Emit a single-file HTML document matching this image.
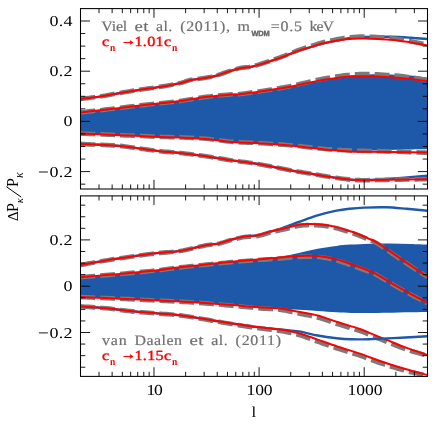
<!DOCTYPE html>
<html><head><meta charset="utf-8"><title>plot</title>
<style>
html,body{margin:0;padding:0;background:#fff;}
body{width:436px;height:425px;position:relative;overflow:hidden;font-family:"Liberation Serif",serif;}
.t{position:absolute;white-space:nowrap;font-size:15px;line-height:15px;color:#000;}
.yl{text-align:right;width:70px;left:3.6px;letter-spacing:1.3px;}
.mn{display:inline-block;width:9px;margin-right:2.6px;letter-spacing:0;text-align:center;transform:scaleX(1.0);}
.xl{text-align:center;width:60px;font-size:15.5px;letter-spacing:1.25px;}
sub.w{font-size:7.5px;font-weight:bold;letter-spacing:0;vertical-align:-2.8px}
.g{color:#6e6e6e;}
.r{color:#ff0000;font-weight:normal;-webkit-text-stroke:0.5px #ff0000;}
.r sub{font-size:9.5px;font-weight:bold;-webkit-text-stroke:0;vertical-align:-3.5px}
sub{font-size:8px;line-height:0;vertical-align:-3px;font-family:"Liberation Sans",sans-serif;letter-spacing:0.3px}
</style></head><body>
<svg width="436" height="425" viewBox="0 0 436 425" style="position:absolute;left:0;top:0">
<defs><clipPath id="c1"><rect x="80.5" y="8.6" width="347" height="180.4"/></clipPath><clipPath id="c2"><rect x="80.5" y="195.9" width="347" height="180.5"/></clipPath></defs>
<g clip-path="url(#c1)">
<path d="M80.50 112.40 C83.75 112.05 93.42 111.05 100.00 110.30 C106.58 109.55 113.33 108.70 120.00 107.90 C126.67 107.10 133.33 106.27 140.00 105.50 C146.67 104.73 153.33 104.03 160.00 103.30 C166.67 102.57 172.33 102.15 180.00 101.10 C187.67 100.05 197.33 98.12 206.00 97.00 C214.67 95.88 226.33 94.87 232.00 94.40 C237.67 93.93 234.75 94.77 240.00 94.20 C245.25 93.63 255.65 92.15 263.50 91.00 C271.35 89.85 279.25 88.73 287.10 87.30 C294.95 85.87 304.72 83.62 310.60 82.40 C316.48 81.18 317.50 80.83 322.40 80.00 C327.30 79.17 335.40 78.13 340.00 77.40 C344.60 76.67 346.00 76.07 350.00 75.60 C354.00 75.13 357.25 74.80 364.00 74.60 C370.75 74.40 382.73 74.23 390.50 74.40 C398.27 74.57 404.43 75.05 410.60 75.60 C416.77 76.15 424.68 77.35 427.50 77.70 L427.50 149.30 C424.58 149.33 416.17 149.38 410.00 149.50 C403.83 149.62 398.17 149.78 390.50 150.00 C382.83 150.22 370.75 150.55 364.00 150.80 C357.25 151.05 355.67 151.62 350.00 151.50 C344.33 151.38 336.67 150.72 330.00 150.10 C323.33 149.48 316.67 148.57 310.00 147.80 C303.33 147.03 298.67 146.25 290.00 145.50 C281.33 144.75 267.67 143.88 258.00 143.30 C248.33 142.72 240.67 142.73 232.00 142.00 C223.33 141.27 214.67 139.65 206.00 138.90 C197.33 138.15 187.67 137.82 180.00 137.50 C172.33 137.18 166.67 137.25 160.00 137.00 C153.33 136.75 146.67 136.30 140.00 136.00 C133.33 135.70 126.67 135.48 120.00 135.20 C113.33 134.92 106.58 134.57 100.00 134.30 C93.42 134.03 83.75 133.72 80.50 133.60 Z" fill="#1e58a8"/>
<path d="M80.50 99.00 C83.75 98.60 93.42 97.60 100.00 96.60 C106.58 95.60 113.33 94.13 120.00 93.00 C126.67 91.87 133.33 90.82 140.00 89.80 C146.67 88.78 153.33 88.00 160.00 86.90 C166.67 85.80 175.00 84.32 180.00 83.20 C185.00 82.08 186.23 81.00 190.00 80.20 C193.77 79.40 198.38 79.10 202.60 78.40 C206.82 77.70 211.08 77.10 215.30 76.00 C219.52 74.90 223.70 73.10 227.90 71.80 C232.10 70.50 236.72 69.00 240.50 68.20 C244.28 67.40 247.23 67.67 250.60 67.00 C253.97 66.33 256.92 65.33 260.70 64.20 C264.48 63.07 269.08 61.62 273.30 60.20 C277.52 58.78 281.72 57.30 286.00 55.70 C290.28 54.10 294.90 52.03 299.00 50.60 C303.10 49.17 306.70 48.28 310.60 47.10 C314.50 45.92 317.50 44.68 322.40 43.50 C327.30 42.32 335.40 40.93 340.00 40.00 C344.60 39.07 346.00 38.42 350.00 37.90 C354.00 37.38 357.25 37.08 364.00 36.90 C370.75 36.72 382.73 36.67 390.50 36.80 C398.27 36.93 404.43 37.33 410.60 37.70 C416.77 38.07 424.68 38.78 427.50 39.00" fill="none" stroke="#1e58a8" stroke-width="2.4"/>
<path d="M80.50 98.90 L82.00 98.72 L83.99 98.50 L86.36 98.23 L89.00 97.92 L91.79 97.59 L94.63 97.24 L97.41 96.87 L100.00 96.50 L102.48 96.10 L104.96 95.67 L107.46 95.22 L109.97 94.75 L112.48 94.27 L114.99 93.80 L117.50 93.34 L120.00 92.90 L122.50 92.48 L125.00 92.06 L127.50 91.66 L130.00 91.26 L132.50 90.86 L135.00 90.47 L137.50 90.08 L140.00 89.70 L142.50 89.33 L145.00 88.97 L147.50 88.63 L150.00 88.28 L152.50 87.93 L155.00 87.57 L157.50 87.20 L160.00 86.80 L162.57 86.37 L165.23 85.91 L167.94 85.44 L170.62 84.96 L173.23 84.47 L175.70 83.99 L177.98 83.53 L180.00 83.10 L181.71 82.68 L183.14 82.27 L184.37 81.87 L185.46 81.48 L186.50 81.11 L187.55 80.75 L188.69 80.41 L190.00 80.10 L191.45 79.82 L192.96 79.58 L194.53 79.36 L196.13 79.16 L197.75 78.97 L199.38 78.76 L201.00 78.54 L202.60 78.30 L204.18 78.03 L205.77 77.77 L207.36 77.51 L208.95 77.24 L210.54 76.94 L212.13 76.62 L213.72 76.27 L215.30 75.87 L216.88 75.43 L218.46 74.93 L220.03 74.40 L221.61 73.84 L223.18 73.27 L224.75 72.71 L226.33 72.16 L227.90 71.65 L229.49 71.16 L231.11 70.65 L232.73 70.15 L234.36 69.66 L235.96 69.19 L237.53 68.75 L239.04 68.37 L240.50 68.03 L241.88 67.78 L243.20 67.60 L244.47 67.47 L245.71 67.37 L246.92 67.28 L248.13 67.18 L249.35 67.03 L250.60 66.82 L251.85 66.55 L253.07 66.25 L254.28 65.93 L255.49 65.58 L256.73 65.21 L258.00 64.83 L259.32 64.42 L260.70 63.99 L262.15 63.53 L263.67 63.05 L265.24 62.54 L266.84 62.02 L268.46 61.48 L270.08 60.94 L271.70 60.39 L273.30 59.83 L274.88 59.28 L276.46 58.72 L278.04 58.15 L279.62 57.57 L281.21 56.99 L282.80 56.39 L284.40 55.79 L286.00 55.18 L287.62 54.54 L289.26 53.86 L290.91 53.17 L292.57 52.48 L294.21 51.79 L295.84 51.13 L297.44 50.50 L299.00 49.91 L300.52 49.38 L301.99 48.89 L303.44 48.43 L304.88 47.99 L306.30 47.57 L307.72 47.14 L309.15 46.71 L310.60 46.26 L312.03 45.79 L313.40 45.33 L314.76 44.86 L316.12 44.38 L317.54 43.91 L319.04 43.44 L320.65 42.97 L322.40 42.50 L324.37 42.02 L326.57 41.51 L328.91 40.99 L331.31 40.46 L333.70 39.95 L336.00 39.47 L338.12 39.04 L340.00 38.68 L341.59 38.39 L342.94 38.15 L344.13 37.97 L345.23 37.82 L346.29 37.70 L347.40 37.59 L348.61 37.48 L350.00 37.36 L351.47 37.22 L352.93 37.08 L354.41 36.95 L355.97 36.82 L357.66 36.71 L359.53 36.63 L361.62 36.57 L364.00 36.54 L366.76 36.58 L369.90 36.72 L373.30 36.90 L376.87 37.11 L380.48 37.34 L384.03 37.60 L387.41 37.87 L390.50 38.16 L393.34 38.47 L396.05 38.81 L398.65 39.18 L401.15 39.58 L403.58 40.02 L405.95 40.45 L408.28 40.89 L410.60 41.31 L412.98 41.76 L415.45 42.24 L417.91 42.73 L420.31 43.22 L422.54 43.68 L424.54 44.10 L426.22 44.45 L427.50 44.70" fill="none" stroke="#7a7a7a" stroke-width="4.6" stroke-dasharray="14.8 5" stroke-dashoffset="0"/>
<path d="M80.50 99.00 C83.75 98.60 93.42 97.60 100.00 96.60 C106.58 95.60 113.33 94.13 120.00 93.00 C126.67 91.87 133.33 90.82 140.00 89.80 C146.67 88.78 153.33 88.00 160.00 86.90 C166.67 85.80 175.00 84.32 180.00 83.20 C185.00 82.08 186.23 81.00 190.00 80.20 C193.77 79.40 198.38 79.10 202.60 78.40 C206.82 77.70 211.08 77.10 215.30 76.00 C219.52 74.90 223.70 73.10 227.90 71.80 C232.10 70.50 236.72 69.00 240.50 68.20 C244.28 67.40 247.23 67.67 250.60 67.00 C253.97 66.33 256.92 65.33 260.70 64.20 C264.48 63.07 269.08 61.62 273.30 60.20 C277.52 58.78 281.72 57.30 286.00 55.70 C290.28 54.10 294.90 52.03 299.00 50.60 C303.10 49.17 306.70 48.28 310.60 47.10 C314.50 45.92 317.50 44.68 322.40 43.50 C327.30 42.32 335.40 40.77 340.00 40.00 C344.60 39.23 346.00 39.17 350.00 38.90 C354.00 38.63 357.25 38.27 364.00 38.40 C370.75 38.53 382.73 39.03 390.50 39.70 C398.27 40.37 404.43 41.47 410.60 42.40 C416.77 43.33 424.68 44.82 427.50 45.30" fill="none" stroke="#ff0000" stroke-width="2.0"/>
<path d="M80.50 112.30 L82.00 112.14 L83.99 111.93 L86.36 111.68 L89.00 111.40 L91.79 111.10 L94.63 110.80 L97.41 110.49 L100.00 110.20 L102.48 109.91 L104.96 109.62 L107.46 109.32 L109.97 109.02 L112.48 108.71 L114.99 108.41 L117.50 108.10 L120.00 107.80 L122.50 107.50 L125.00 107.20 L127.50 106.89 L130.00 106.59 L132.50 106.29 L135.00 105.99 L137.50 105.69 L140.00 105.40 L142.50 105.12 L145.00 104.84 L147.50 104.56 L150.00 104.29 L152.50 104.02 L155.00 103.75 L157.50 103.47 L160.00 103.20 L162.46 102.94 L164.86 102.69 L167.24 102.46 L169.62 102.22 L172.06 101.96 L174.58 101.68 L177.21 101.37 L180.00 101.00 L182.96 100.57 L186.08 100.07 L189.31 99.54 L192.62 98.97 L195.99 98.41 L199.36 97.86 L202.71 97.35 L206.00 96.89 L209.37 96.47 L212.92 96.07 L216.54 95.68 L220.12 95.32 L223.57 94.99 L226.77 94.70 L229.61 94.45 L232.00 94.25 L233.76 94.12 L234.90 94.09 L235.64 94.12 L236.16 94.18 L236.66 94.23 L237.33 94.24 L238.38 94.19 L240.00 94.03 L242.20 93.78 L244.78 93.45 L247.67 93.06 L250.78 92.63 L254.00 92.18 L257.25 91.71 L260.45 91.24 L263.50 90.76 L266.45 90.29 L269.40 89.82 L272.35 89.35 L275.30 88.86 L278.25 88.37 L281.20 87.86 L284.15 87.32 L287.10 86.76 L290.12 86.15 L293.26 85.49 L296.43 84.79 L299.59 84.07 L302.65 83.35 L305.55 82.67 L308.22 82.04 L310.60 81.49 L312.60 81.03 L314.24 80.64 L315.63 80.31 L316.87 80.02 L318.06 79.74 L319.32 79.47 L320.73 79.18 L322.40 78.85 L324.37 78.48 L326.57 78.09 L328.91 77.68 L331.31 77.27 L333.70 76.88 L336.00 76.51 L338.12 76.18 L340.00 75.90 L341.59 75.67 L342.94 75.49 L344.13 75.34 L345.23 75.22 L346.29 75.12 L347.40 75.03 L348.61 74.94 L350.00 74.83 L351.47 74.72 L352.93 74.59 L354.41 74.47 L355.97 74.36 L357.66 74.26 L359.53 74.17 L361.62 74.10 L364.00 74.06 L366.76 74.04 L369.90 74.04 L373.30 74.19 L376.87 74.36 L380.48 74.55 L384.03 74.76 L387.41 74.96 L390.50 75.17 L393.34 75.39 L396.05 75.61 L398.65 75.84 L401.15 76.10 L403.58 76.39 L405.95 76.69 L408.28 77.00 L410.60 77.31 L412.98 77.66 L415.45 78.04 L417.91 78.45 L420.31 78.86 L422.54 79.25 L424.54 79.60 L426.22 79.90 L427.50 80.10" fill="none" stroke="#7a7a7a" stroke-width="4.6" stroke-dasharray="14.8 5" stroke-dashoffset="0"/>
<path d="M80.50 112.40 C83.75 112.05 93.42 111.05 100.00 110.30 C106.58 109.55 113.33 108.70 120.00 107.90 C126.67 107.10 133.33 106.27 140.00 105.50 C146.67 104.73 153.33 104.03 160.00 103.30 C166.67 102.57 172.33 102.15 180.00 101.10 C187.67 100.05 197.33 98.12 206.00 97.00 C214.67 95.88 226.33 94.87 232.00 94.40 C237.67 93.93 234.75 94.77 240.00 94.20 C245.25 93.63 255.65 92.15 263.50 91.00 C271.35 89.85 279.25 88.73 287.10 87.30 C294.95 85.87 304.72 83.62 310.60 82.40 C316.48 81.18 317.50 80.83 322.40 80.00 C327.30 79.17 335.40 77.97 340.00 77.40 C344.60 76.83 346.00 76.80 350.00 76.60 C354.00 76.40 357.25 76.10 364.00 76.20 C370.75 76.30 382.73 76.75 390.50 77.20 C398.27 77.65 404.43 78.23 410.60 78.90 C416.77 79.57 424.68 80.82 427.50 81.20" fill="none" stroke="#ff0000" stroke-width="2.0"/>
<path d="M80.50 133.60 L82.00 133.65 L83.99 133.72 L86.36 133.79 L89.00 133.88 L91.79 133.98 L94.63 134.07 L97.41 134.17 L100.00 134.27 L102.48 134.37 L104.96 134.48 L107.46 134.59 L109.97 134.70 L112.48 134.82 L114.99 134.93 L117.50 135.04 L120.00 135.15 L122.50 135.25 L125.00 135.34 L127.50 135.43 L130.00 135.53 L132.50 135.62 L135.00 135.71 L137.50 135.81 L140.00 135.92 L142.50 136.03 L145.00 136.16 L147.50 136.29 L150.00 136.42 L152.50 136.55 L155.00 136.68 L157.50 136.79 L160.00 136.89 L162.46 136.97 L164.86 137.02 L167.24 137.07 L169.62 137.10 L172.06 137.14 L174.58 137.19 L177.21 137.27 L180.00 137.36 L182.96 137.48 L186.08 137.60 L189.31 137.74 L192.62 137.88 L195.99 138.05 L199.36 138.25 L202.71 138.47 L206.00 138.73 L209.25 139.04 L212.50 139.42 L215.75 139.83 L219.00 140.27 L222.25 140.70 L225.50 141.11 L228.75 141.48 L232.00 141.79 L235.21 142.03 L238.36 142.21 L241.49 142.36 L244.62 142.48 L247.81 142.60 L251.08 142.72 L254.46 142.87 L258.00 143.06 L261.79 143.28 L265.86 143.53 L270.09 143.80 L274.38 144.07 L278.62 144.36 L282.70 144.65 L286.53 144.93 L290.00 145.21 L293.07 145.49 L295.84 145.77 L298.38 146.06 L300.75 146.33 L303.03 146.59 L305.28 146.85 L307.58 147.11 L310.00 147.36 L312.50 147.62 L315.00 147.89 L317.50 148.16 L320.00 148.43 L322.50 148.69 L325.00 148.94 L327.50 149.17 L330.00 149.38 L332.54 149.57 L335.14 149.75 L337.76 149.91 L340.38 150.06 L342.94 150.19 L345.42 150.31 L347.79 150.41 L350.00 150.50 L351.95 150.60 L353.63 150.68 L355.14 150.73 L356.59 150.76 L358.10 150.79 L359.76 150.82 L361.69 150.85 L364.00 150.89 L366.64 150.95 L369.50 151.00 L372.56 151.05 L375.81 151.11 L379.24 151.17 L382.84 151.27 L386.60 151.38 L390.50 151.50 L394.88 151.64 L399.88 151.80 L405.23 151.98 L410.66 152.16 L415.87 152.33 L420.61 152.48 L424.57 152.61 L427.50 152.70" fill="none" stroke="#7a7a7a" stroke-width="4.6" stroke-dasharray="14.8 5" stroke-dashoffset="0"/>
<path d="M80.50 133.60 C83.75 133.72 93.42 134.03 100.00 134.30 C106.58 134.57 113.33 134.92 120.00 135.20 C126.67 135.48 133.33 135.70 140.00 136.00 C146.67 136.30 153.33 136.75 160.00 137.00 C166.67 137.25 172.33 137.18 180.00 137.50 C187.67 137.82 197.33 138.15 206.00 138.90 C214.67 139.65 223.33 141.27 232.00 142.00 C240.67 142.73 248.33 142.72 258.00 143.30 C267.67 143.88 281.33 144.75 290.00 145.50 C298.67 146.25 303.33 147.03 310.00 147.80 C316.67 148.57 323.33 149.48 330.00 150.10 C336.67 150.72 344.33 151.22 350.00 151.50 C355.67 151.78 357.25 151.70 364.00 151.80 C370.75 151.90 379.92 151.97 390.50 152.10 C401.08 152.23 421.33 152.52 427.50 152.60" fill="none" stroke="#ff0000" stroke-width="2.0"/>
<path d="M80.50 144.00 C83.75 144.13 93.42 144.48 100.00 144.80 C106.58 145.12 113.33 145.27 120.00 145.90 C126.67 146.53 133.33 147.72 140.00 148.60 C146.67 149.48 153.33 150.47 160.00 151.20 C166.67 151.93 172.33 152.15 180.00 153.00 C187.67 153.85 197.33 155.07 206.00 156.30 C214.67 157.53 223.33 159.12 232.00 160.40 C240.67 161.68 248.33 162.37 258.00 164.00 C267.67 165.63 281.33 168.60 290.00 170.20 C298.67 171.80 303.33 172.48 310.00 173.60 C316.67 174.72 323.33 175.90 330.00 176.90 C336.67 177.90 344.33 179.05 350.00 179.60 C355.67 180.15 359.83 180.20 364.00 180.20 C368.17 180.20 370.58 179.87 375.00 179.60 C379.42 179.33 384.67 179.00 390.50 178.60 C396.33 178.20 403.83 177.67 410.00 177.20 C416.17 176.73 424.58 176.03 427.50 175.80" fill="none" stroke="#1e58a8" stroke-width="2.4"/>
<path d="M80.50 144.00 L82.00 144.06 L83.99 144.14 L86.36 144.23 L89.00 144.33 L91.79 144.44 L94.63 144.56 L97.41 144.68 L100.00 144.80 L102.48 144.91 L104.96 145.02 L107.46 145.12 L109.97 145.23 L112.48 145.36 L114.99 145.51 L117.50 145.68 L120.00 145.90 L122.50 146.16 L125.00 146.46 L127.50 146.80 L130.00 147.16 L132.50 147.52 L135.00 147.89 L137.50 148.26 L140.00 148.60 L142.50 148.94 L145.00 149.28 L147.50 149.62 L150.00 149.96 L152.50 150.29 L155.00 150.61 L157.50 150.91 L160.00 151.20 L162.46 151.45 L164.86 151.67 L167.24 151.87 L169.62 152.06 L172.06 152.25 L174.58 152.46 L177.21 152.71 L180.00 153.00 L182.96 153.34 L186.08 153.70 L189.31 154.09 L192.62 154.51 L195.99 154.94 L199.36 155.38 L202.71 155.84 L206.00 156.30 L209.25 156.78 L212.50 157.28 L215.75 157.80 L219.00 158.33 L222.25 158.86 L225.50 159.39 L228.75 159.91 L232.00 160.40 L235.21 160.86 L238.36 161.27 L241.49 161.67 L244.62 162.07 L247.81 162.48 L251.08 162.93 L254.46 163.43 L258.00 164.00 L261.79 164.67 L265.86 165.43 L270.09 166.26 L274.38 167.11 L278.62 167.97 L282.70 168.79 L286.53 169.54 L290.00 170.20 L293.07 170.76 L295.84 171.25 L298.38 171.68 L300.75 172.08 L303.03 172.46 L305.28 172.82 L307.58 173.20 L310.00 173.60 L312.50 174.02 L315.00 174.45 L317.50 174.87 L320.00 175.29 L322.50 175.71 L325.00 176.12 L327.50 176.52 L330.00 176.90 L332.54 177.28 L335.14 177.67 L337.76 178.05 L340.38 178.42 L342.94 178.77 L345.42 179.09 L347.79 179.37 L350.00 179.60 L351.95 179.78 L353.63 179.92 L355.14 180.02 L356.59 180.09 L358.10 180.14 L359.76 180.17 L361.69 180.19 L364.00 180.20 L366.64 180.20 L369.50 180.17 L372.56 180.13 L375.81 180.07 L379.24 180.01 L382.84 179.94 L386.60 179.87 L390.50 179.80 L394.88 179.73 L399.88 179.65 L405.23 179.56 L410.66 179.47 L415.87 179.39 L420.61 179.31 L424.57 179.25 L427.50 179.20" fill="none" stroke="#7a7a7a" stroke-width="4.6" stroke-dasharray="14.8 5" stroke-dashoffset="0"/>
<path d="M80.50 144.00 C83.75 144.13 93.42 144.48 100.00 144.80 C106.58 145.12 113.33 145.27 120.00 145.90 C126.67 146.53 133.33 147.72 140.00 148.60 C146.67 149.48 153.33 150.47 160.00 151.20 C166.67 151.93 172.33 152.15 180.00 153.00 C187.67 153.85 197.33 155.07 206.00 156.30 C214.67 157.53 223.33 159.12 232.00 160.40 C240.67 161.68 248.33 162.37 258.00 164.00 C267.67 165.63 281.33 168.60 290.00 170.20 C298.67 171.80 303.33 172.48 310.00 173.60 C316.67 174.72 323.33 175.90 330.00 176.90 C336.67 177.90 344.33 179.05 350.00 179.60 C355.67 180.15 357.25 180.17 364.00 180.20 C370.75 180.23 379.92 179.97 390.50 179.80 C401.08 179.63 421.33 179.30 427.50 179.20" fill="none" stroke="#ff0000" stroke-width="2.0"/>
</g>
<g clip-path="url(#c2)">
<path d="M80.50 277.20 C84.75 276.85 97.42 275.83 106.00 275.10 C114.58 274.37 123.40 273.62 132.00 272.80 C140.60 271.98 149.60 271.12 157.60 270.20 C165.60 269.28 171.93 268.25 180.00 267.30 C188.07 266.35 197.33 265.43 206.00 264.50 C214.67 263.57 223.40 262.55 232.00 261.70 C240.60 260.85 249.60 260.22 257.60 259.40 C265.60 258.58 273.13 257.87 280.00 256.80 C286.87 255.73 292.53 254.35 298.80 253.00 C305.07 251.65 311.32 249.88 317.60 248.70 C323.88 247.52 331.10 246.58 336.50 245.90 C341.90 245.22 344.42 244.97 350.00 244.60 C355.58 244.23 363.25 243.88 370.00 243.70 C376.75 243.52 383.83 243.45 390.50 243.50 C397.17 243.55 403.83 243.82 410.00 244.00 C416.17 244.18 424.58 244.50 427.50 244.60 L427.50 312.00 C424.58 312.05 416.70 312.17 410.00 312.30 C403.30 312.43 394.07 312.67 387.30 312.80 C380.53 312.93 375.35 313.07 369.40 313.10 C363.45 313.13 357.08 313.13 351.60 313.00 C346.12 312.87 342.17 312.63 336.50 312.30 C330.83 311.97 323.88 311.42 317.60 311.00 C311.32 310.58 305.07 310.23 298.80 309.80 C292.53 309.37 286.87 308.83 280.00 308.40 C273.13 307.97 265.60 307.75 257.60 307.20 C249.60 306.65 240.60 305.78 232.00 305.10 C223.40 304.42 214.67 303.70 206.00 303.10 C197.33 302.50 188.07 301.93 180.00 301.50 C171.93 301.07 165.60 300.88 157.60 300.50 C149.60 300.12 140.60 299.60 132.00 299.20 C123.40 298.80 114.58 298.45 106.00 298.10 C97.42 297.75 84.75 297.27 80.50 297.10 Z" fill="#1e58a8"/>
<path d="M80.50 265.00 C84.75 264.23 97.42 261.82 106.00 260.40 C114.58 258.98 123.40 257.72 132.00 256.50 C140.60 255.28 149.60 254.03 157.60 253.10 C165.60 252.17 171.93 252.22 180.00 250.90 C188.07 249.58 199.53 246.45 206.00 245.20 C212.47 243.95 214.50 244.35 218.80 243.40 C223.10 242.45 227.48 240.63 231.80 239.50 C236.12 238.37 240.40 237.30 244.70 236.60 C249.00 235.90 253.28 236.15 257.60 235.30 C261.92 234.45 266.87 232.55 270.60 231.50 C274.33 230.45 275.30 230.58 280.00 229.00 C284.70 227.42 292.53 224.27 298.80 222.00 C305.07 219.73 311.32 217.28 317.60 215.40 C323.88 213.52 331.10 211.82 336.50 210.70 C341.90 209.58 345.38 209.22 350.00 208.70 C354.62 208.18 358.13 207.83 364.20 207.60 C370.27 207.37 379.32 207.10 386.40 207.30 C393.48 207.50 399.85 208.23 406.70 208.80 C413.55 209.37 424.03 210.38 427.50 210.70" fill="none" stroke="#1e58a8" stroke-width="2.4"/>
<path d="M80.50 265.00 L82.46 264.64 L85.07 264.16 L88.17 263.59 L91.62 262.95 L95.28 262.29 L98.99 261.62 L102.61 260.99 L106.00 260.42 L109.23 259.90 L112.47 259.39 L115.73 258.89 L118.99 258.41 L122.26 257.93 L125.52 257.46 L128.77 257.00 L132.00 256.54 L135.24 256.09 L138.50 255.64 L141.77 255.19 L145.02 254.75 L148.25 254.32 L151.43 253.91 L154.56 253.53 L157.60 253.16 L160.53 252.86 L163.34 252.62 L166.08 252.41 L168.77 252.22 L171.48 252.00 L174.22 251.75 L177.05 251.42 L180.00 250.98 L183.17 250.41 L186.56 249.72 L190.07 248.94 L193.60 248.12 L197.06 247.30 L200.34 246.54 L203.36 245.88 L206.00 245.35 L208.23 244.97 L210.12 244.71 L211.76 244.53 L213.21 244.39 L214.57 244.27 L215.90 244.13 L217.28 243.94 L218.80 243.65 L220.42 243.27 L222.04 242.83 L223.66 242.34 L225.29 241.82 L226.92 241.30 L228.55 240.78 L230.18 240.30 L231.80 239.85 L233.42 239.45 L235.03 239.05 L236.64 238.66 L238.26 238.29 L239.87 237.95 L241.48 237.62 L243.09 237.32 L244.70 237.06 L246.31 236.85 L247.92 236.70 L249.53 236.60 L251.14 236.53 L252.76 236.45 L254.37 236.34 L255.98 236.17 L257.60 235.93 L259.24 235.59 L260.93 235.17 L262.63 234.70 L264.32 234.19 L265.98 233.68 L267.60 233.19 L269.15 232.73 L270.60 232.34 L271.95 232.01 L273.20 231.72 L274.39 231.46 L275.53 231.23 L276.63 231.00 L277.73 230.77 L278.85 230.54 L280.00 230.30 L281.18 230.03 L282.35 229.76 L283.52 229.49 L284.70 229.21 L285.88 228.94 L287.05 228.67 L288.23 228.39 L289.40 228.12 L290.57 227.82 L291.75 227.52 L292.93 227.20 L294.10 226.89 L295.27 226.58 L296.45 226.30 L297.62 226.05 L298.80 225.83 L299.98 225.65 L301.15 225.51 L302.32 225.38 L303.50 225.28 L304.68 225.20 L305.85 225.14 L307.02 225.09 L308.20 225.05 L309.37 225.02 L310.55 225.01 L311.72 225.02 L312.89 225.04 L314.07 225.08 L315.24 225.13 L316.42 225.19 L317.60 225.26 L318.78 225.35 L319.97 225.44 L321.16 225.55 L322.35 225.66 L323.54 225.80 L324.73 225.94 L325.92 226.10 L327.10 226.28 L328.28 226.47 L329.46 226.67 L330.63 226.89 L331.81 227.12 L332.98 227.37 L334.15 227.63 L335.33 227.91 L336.50 228.19 L337.70 228.51 L338.93 228.86 L340.17 229.22 L341.41 229.61 L342.62 229.99 L343.78 230.36 L344.88 230.71 L345.90 231.03 L346.81 231.31 L347.61 231.55 L348.35 231.77 L349.04 231.98 L349.72 232.20 L350.42 232.42 L351.17 232.67 L352.00 232.96 L352.91 233.28 L353.87 233.63 L354.86 234.00 L355.88 234.38 L356.92 234.77 L357.96 235.18 L358.99 235.59 L360.00 236.00 L361.00 236.39 L362.00 236.79 L363.00 237.19 L364.00 237.61 L365.00 238.03 L366.00 238.45 L367.00 238.87 L368.00 239.30 L369.01 239.72 L370.02 240.14 L371.04 240.56 L372.06 240.99 L373.07 241.42 L374.07 241.86 L375.05 242.32 L376.00 242.80 L376.92 243.32 L377.82 243.85 L378.69 244.40 L379.56 244.96 L380.41 245.54 L381.27 246.11 L382.13 246.69 L383.00 247.28 L383.83 247.84 L384.60 248.36 L385.35 248.87 L386.11 249.40 L386.92 249.96 L387.83 250.59 L388.88 251.32 L390.10 252.16 L391.53 253.14 L393.13 254.24 L394.87 255.44 L396.71 256.70 L398.60 258.00 L400.50 259.30 L402.38 260.59 L404.20 261.82 L406.01 263.03 L407.86 264.28 L409.74 265.53 L411.61 266.75 L413.44 267.93 L415.21 269.08 L416.87 270.16 L418.40 271.15 L419.84 272.09 L421.25 273.01 L422.59 273.88 L423.84 274.70 L424.98 275.44 L425.98 276.10 L426.83 276.66 L427.50 277.10" fill="none" stroke="#7a7a7a" stroke-width="4.6" stroke-dasharray="14.8 5" stroke-dashoffset="0"/>
<path d="M80.50 265.00 C84.75 264.23 97.42 261.82 106.00 260.40 C114.58 258.98 123.40 257.72 132.00 256.50 C140.60 255.28 149.60 254.03 157.60 253.10 C165.60 252.17 171.93 252.22 180.00 250.90 C188.07 249.58 199.53 246.45 206.00 245.20 C212.47 243.95 214.50 244.35 218.80 243.40 C223.10 242.45 227.48 240.63 231.80 239.50 C236.12 238.37 240.40 237.30 244.70 236.60 C249.00 235.90 253.28 236.15 257.60 235.30 C261.92 234.45 266.87 232.50 270.60 231.50 C274.33 230.50 276.87 230.03 280.00 229.30 C283.13 228.57 286.27 227.85 289.40 227.10 C292.53 226.35 295.67 225.32 298.80 224.80 C301.93 224.28 305.07 224.10 308.20 224.00 C311.33 223.90 314.45 224.00 317.60 224.20 C320.75 224.40 323.95 224.72 327.10 225.20 C330.25 225.68 333.37 226.32 336.50 227.10 C339.63 227.88 343.32 229.12 345.90 229.90 C348.48 230.68 349.65 230.98 352.00 231.80 C354.35 232.62 357.33 233.72 360.00 234.80 C362.67 235.88 365.33 237.10 368.00 238.30 C370.67 239.50 373.50 240.63 376.00 242.00 C378.50 243.37 380.65 244.93 383.00 246.50 C385.35 248.07 386.57 248.97 390.10 251.40 C393.63 253.83 399.48 257.90 404.20 261.10 C408.92 264.30 414.52 268.00 418.40 270.60 C422.28 273.20 425.98 275.68 427.50 276.70" fill="none" stroke="#ff0000" stroke-width="2.0"/>
<path d="M80.50 277.20 L82.46 277.04 L85.07 276.83 L88.17 276.58 L91.62 276.30 L95.28 276.01 L98.99 275.70 L102.61 275.41 L106.00 275.12 L109.23 274.85 L112.47 274.57 L115.73 274.30 L118.99 274.01 L122.26 273.73 L125.52 273.44 L128.77 273.14 L132.00 272.84 L135.24 272.54 L138.50 272.23 L141.77 271.91 L145.02 271.59 L148.25 271.27 L151.43 270.94 L154.56 270.60 L157.60 270.26 L160.53 269.92 L163.34 269.56 L166.08 269.20 L168.77 268.84 L171.48 268.47 L174.22 268.10 L177.05 267.74 L180.00 267.38 L183.08 267.03 L186.25 266.68 L189.49 266.33 L192.78 265.99 L196.09 265.64 L199.42 265.30 L202.73 264.97 L206.00 264.65 L209.25 264.32 L212.51 263.99 L215.77 263.65 L219.03 263.32 L222.28 262.99 L225.53 262.67 L228.77 262.36 L232.00 262.06 L235.24 261.77 L238.50 261.49 L241.77 261.22 L245.02 260.95 L248.25 260.70 L251.43 260.46 L254.56 260.24 L257.60 260.03 L260.64 259.81 L263.73 259.60 L266.81 259.39 L269.81 259.19 L272.69 259.00 L275.39 258.82 L277.84 258.65 L280.00 258.50 L281.80 258.34 L283.26 258.21 L284.48 258.09 L285.51 257.98 L286.45 257.89 L287.35 257.80 L288.31 257.71 L289.40 257.62 L290.57 257.52 L291.75 257.42 L292.93 257.32 L294.10 257.23 L295.27 257.14 L296.45 257.06 L297.62 256.99 L298.80 256.93 L299.98 256.88 L301.15 256.84 L302.32 256.81 L303.50 256.78 L304.68 256.76 L305.85 256.75 L307.02 256.75 L308.20 256.75 L309.37 256.75 L310.55 256.75 L311.72 256.75 L312.89 256.76 L314.07 256.78 L315.24 256.82 L316.42 256.88 L317.60 256.96 L318.78 257.07 L319.97 257.19 L321.16 257.34 L322.35 257.50 L323.54 257.67 L324.73 257.86 L325.92 258.06 L327.10 258.28 L328.28 258.51 L329.46 258.75 L330.63 259.01 L331.81 259.29 L332.98 259.57 L334.15 259.87 L335.33 260.18 L336.50 260.49 L337.64 260.81 L338.74 261.12 L339.82 261.44 L340.91 261.78 L342.03 262.14 L343.22 262.53 L344.50 262.95 L345.90 263.43 L347.46 263.97 L349.19 264.57 L351.01 265.22 L352.90 265.90 L354.79 266.59 L356.64 267.26 L358.39 267.91 L360.00 268.50 L361.49 269.01 L362.93 269.51 L364.30 269.99 L365.62 270.46 L366.87 270.91 L368.05 271.34 L369.16 271.75 L370.20 272.14 L371.08 272.47 L371.76 272.71 L372.33 272.90 L372.86 273.09 L373.41 273.31 L374.07 273.61 L374.91 274.03 L376.00 274.60 L377.37 275.38 L378.94 276.31 L380.68 277.36 L382.53 278.49 L384.45 279.66 L386.38 280.84 L388.28 281.98 L390.10 283.06 L391.86 284.08 L393.62 285.09 L395.38 286.09 L397.14 287.09 L398.91 288.08 L400.67 289.06 L402.43 290.04 L404.20 291.02 L406.01 292.01 L407.86 293.02 L409.74 294.03 L411.61 295.02 L413.44 295.97 L415.21 296.89 L416.87 297.75 L418.40 298.55 L419.84 299.31 L421.25 300.04 L422.59 300.74 L423.84 301.39 L424.98 301.98 L425.98 302.50 L426.83 302.94 L427.50 303.30" fill="none" stroke="#7a7a7a" stroke-width="4.6" stroke-dasharray="14.8 5" stroke-dashoffset="0"/>
<path d="M80.50 277.20 C84.75 276.85 97.42 275.83 106.00 275.10 C114.58 274.37 123.40 273.62 132.00 272.80 C140.60 271.98 149.60 271.12 157.60 270.20 C165.60 269.28 171.93 268.25 180.00 267.30 C188.07 266.35 197.33 265.43 206.00 264.50 C214.67 263.57 223.40 262.55 232.00 261.70 C240.60 260.85 249.60 260.10 257.60 259.40 C265.60 258.70 274.70 257.97 280.00 257.50 C285.30 257.03 286.27 256.87 289.40 256.60 C292.53 256.33 295.67 256.05 298.80 255.90 C301.93 255.75 305.07 255.70 308.20 255.70 C311.33 255.70 314.45 255.65 317.60 255.90 C320.75 256.15 323.95 256.62 327.10 257.20 C330.25 257.78 333.37 258.55 336.50 259.40 C339.63 260.25 341.98 260.98 345.90 262.30 C349.82 263.62 355.95 265.82 360.00 267.30 C364.05 268.78 367.53 270.12 370.20 271.20 C372.87 272.28 372.68 271.95 376.00 273.80 C379.32 275.65 385.40 279.55 390.10 282.30 C394.80 285.05 399.48 287.68 404.20 290.30 C408.92 292.92 414.52 295.90 418.40 298.00 C422.28 300.10 425.98 302.08 427.50 302.90" fill="none" stroke="#ff0000" stroke-width="2.0"/>
<path d="M80.50 297.10 L82.46 297.18 L85.07 297.29 L88.17 297.41 L91.62 297.55 L95.28 297.70 L98.99 297.85 L102.61 298.00 L106.00 298.14 L109.23 298.28 L112.47 298.42 L115.73 298.56 L118.99 298.70 L122.26 298.84 L125.52 298.98 L128.77 299.13 L132.00 299.29 L135.24 299.45 L138.50 299.62 L141.77 299.79 L145.02 299.96 L148.25 300.14 L151.43 300.31 L154.56 300.47 L157.60 300.63 L160.53 300.77 L163.34 300.90 L166.08 301.01 L168.77 301.13 L171.48 301.25 L174.22 301.37 L177.05 301.51 L180.00 301.67 L183.08 301.84 L186.25 302.03 L189.49 302.22 L192.78 302.43 L196.09 302.64 L199.42 302.86 L202.73 303.11 L206.00 303.37 L209.25 303.64 L212.51 303.92 L215.77 304.21 L219.03 304.50 L222.28 304.79 L225.53 305.09 L228.77 305.39 L232.00 305.68 L235.24 305.99 L238.50 306.30 L241.77 306.62 L245.02 306.94 L248.25 307.25 L251.43 307.56 L254.56 307.87 L257.60 308.15 L260.58 308.39 L263.51 308.58 L266.39 308.75 L269.23 308.90 L272.00 309.07 L274.73 309.26 L277.39 309.50 L280.00 309.80 L282.52 310.16 L284.95 310.57 L287.31 311.02 L289.62 311.50 L291.91 312.00 L294.18 312.51 L296.47 313.02 L298.80 313.51 L301.15 313.98 L303.50 314.44 L305.85 314.89 L308.19 315.34 L310.54 315.83 L312.89 316.34 L315.25 316.90 L317.60 317.50 L319.93 318.15 L322.21 318.85 L324.48 319.59 L326.76 320.37 L329.07 321.18 L331.45 322.01 L333.92 322.86 L336.50 323.70 L339.31 324.58 L342.38 325.53 L345.60 326.51 L348.84 327.50 L352.02 328.47 L355.01 329.40 L357.71 330.25 L360.00 331.00 L361.79 331.62 L363.14 332.11 L364.18 332.52 L365.05 332.89 L365.87 333.27 L366.78 333.68 L367.91 334.18 L369.40 334.80 L371.23 335.55 L373.28 336.40 L375.49 337.32 L377.82 338.27 L380.21 339.23 L382.63 340.20 L385.00 341.15 L387.30 342.07 L389.51 342.95 L391.67 343.82 L393.82 344.69 L395.97 345.55 L398.17 346.42 L400.42 347.29 L402.75 348.17 L405.20 349.06 L407.93 350.01 L410.99 351.00 L414.22 351.93 L417.47 352.85 L420.58 353.73 L423.39 354.52 L425.75 355.18 L427.50 355.70" fill="none" stroke="#7a7a7a" stroke-width="4.6" stroke-dasharray="14.8 5" stroke-dashoffset="0"/>
<path d="M80.50 297.10 C84.75 297.27 97.42 297.75 106.00 298.10 C114.58 298.45 123.40 298.80 132.00 299.20 C140.60 299.60 149.60 300.12 157.60 300.50 C165.60 300.88 171.93 301.07 180.00 301.50 C188.07 301.93 197.33 302.50 206.00 303.10 C214.67 303.70 223.40 304.42 232.00 305.10 C240.60 305.78 249.60 306.65 257.60 307.20 C265.60 307.75 273.13 307.63 280.00 308.40 C286.87 309.17 292.53 310.62 298.80 311.80 C305.07 312.98 311.32 313.85 317.60 315.50 C323.88 317.15 329.43 319.45 336.50 321.70 C343.57 323.95 354.52 327.15 360.00 329.00 C365.48 330.85 364.85 330.93 369.40 332.80 C373.95 334.67 381.33 337.77 387.30 340.20 C393.27 342.63 398.50 344.93 405.20 347.40 C411.90 349.87 423.78 353.73 427.50 355.00" fill="none" stroke="#ff0000" stroke-width="2.0"/>
<path d="M80.50 306.40 C84.75 306.70 97.42 307.38 106.00 308.20 C114.58 309.02 123.40 310.43 132.00 311.30 C140.60 312.17 149.60 312.75 157.60 313.40 C165.60 314.05 171.93 314.22 180.00 315.20 C188.07 316.18 197.33 317.92 206.00 319.30 C214.67 320.68 223.40 322.20 232.00 323.50 C240.60 324.80 249.60 326.10 257.60 327.10 C265.60 328.10 273.13 328.78 280.00 329.50 C286.87 330.22 292.53 330.40 298.80 331.40 C305.07 332.40 311.32 334.37 317.60 335.50 C323.88 336.63 330.83 337.57 336.50 338.20 C342.17 338.83 346.12 339.13 351.60 339.30 C357.08 339.47 363.45 339.35 369.40 339.20 C375.35 339.05 381.33 338.68 387.30 338.40 C393.27 338.12 398.50 337.87 405.20 337.50 C411.90 337.13 423.78 336.42 427.50 336.20" fill="none" stroke="#1e58a8" stroke-width="2.4"/>
<path d="M80.50 306.40 L82.46 306.53 L85.07 306.70 L88.17 306.90 L91.62 307.13 L95.28 307.38 L98.99 307.65 L102.61 307.94 L106.00 308.24 L109.23 308.58 L112.47 308.96 L115.73 309.37 L118.99 309.80 L122.26 310.22 L125.52 310.64 L128.77 311.03 L132.00 311.39 L135.24 311.70 L138.50 312.00 L141.77 312.28 L145.02 312.54 L148.25 312.79 L151.43 313.04 L154.56 313.28 L157.60 313.53 L160.53 313.76 L163.34 313.96 L166.08 314.14 L168.77 314.32 L171.48 314.52 L174.22 314.75 L177.05 315.03 L180.00 315.37 L183.08 315.77 L186.25 316.24 L189.49 316.75 L192.78 317.29 L196.09 317.85 L199.42 318.41 L202.73 319.00 L206.00 319.57 L209.25 320.14 L212.51 320.71 L215.77 321.28 L219.03 321.86 L222.28 322.43 L225.53 323.00 L228.77 323.55 L232.00 324.08 L235.24 324.61 L238.50 325.13 L241.77 325.65 L245.02 326.15 L248.25 326.64 L251.43 327.13 L254.56 327.60 L257.60 328.05 L260.58 328.46 L263.51 328.82 L266.39 329.16 L269.23 329.48 L272.00 329.80 L274.73 330.13 L277.39 330.49 L280.00 330.90 L282.52 331.32 L284.95 331.75 L287.31 332.20 L289.62 332.66 L291.91 333.16 L294.18 333.69 L296.47 334.27 L298.80 334.91 L301.15 335.62 L303.50 336.40 L305.85 337.22 L308.19 338.09 L310.54 338.98 L312.89 339.87 L315.25 340.76 L317.60 341.60 L319.93 342.41 L322.21 343.22 L324.48 344.03 L326.76 344.84 L329.07 345.66 L331.45 346.49 L333.92 347.34 L336.50 348.20 L339.31 349.11 L342.38 350.08 L345.60 351.08 L348.84 352.09 L352.02 353.07 L355.01 354.00 L357.71 354.85 L360.00 355.60 L361.79 356.21 L363.14 356.70 L364.18 357.11 L365.05 357.47 L365.87 357.82 L366.78 358.20 L367.91 358.65 L369.40 359.20 L371.23 359.86 L373.28 360.60 L375.49 361.40 L377.82 362.21 L380.21 363.03 L382.63 363.84 L385.00 364.63 L387.30 365.37 L389.51 366.06 L391.67 366.74 L393.82 367.39 L395.97 368.03 L398.17 368.68 L400.42 369.32 L402.75 369.98 L405.20 370.66 L407.93 371.39 L410.99 372.15 L414.22 372.85 L417.47 373.55 L420.58 374.21 L423.39 374.80 L425.75 375.30 L427.50 375.70" fill="none" stroke="#7a7a7a" stroke-width="4.6" stroke-dasharray="14.8 5" stroke-dashoffset="0"/>
<path d="M80.50 306.40 C84.75 306.70 97.42 307.38 106.00 308.20 C114.58 309.02 123.40 310.43 132.00 311.30 C140.60 312.17 149.60 312.75 157.60 313.40 C165.60 314.05 171.93 314.22 180.00 315.20 C188.07 316.18 197.33 317.92 206.00 319.30 C214.67 320.68 223.40 322.20 232.00 323.50 C240.60 324.80 249.60 326.10 257.60 327.10 C265.60 328.10 273.13 328.48 280.00 329.50 C286.87 330.52 292.53 331.52 298.80 333.20 C305.07 334.88 311.32 337.43 317.60 339.60 C323.88 341.77 329.43 343.87 336.50 346.20 C343.57 348.53 354.52 351.77 360.00 353.60 C365.48 355.43 364.85 355.55 369.40 357.20 C373.95 358.85 381.33 361.53 387.30 363.50 C393.27 365.47 398.50 367.08 405.20 369.00 C411.90 370.92 423.78 374.00 427.50 375.00" fill="none" stroke="#ff0000" stroke-width="2.0"/>
</g>
<g stroke="#000" stroke-width="0.9" fill="none"><path d="M80.50 8.60 v4.60 M80.50 189.00 v-4.60"/><path d="M99.01 8.60 v4.60 M99.01 189.00 v-4.60"/><path d="M112.14 8.60 v4.60 M112.14 189.00 v-4.60"/><path d="M122.33 8.60 v4.60 M122.33 189.00 v-4.60"/><path d="M130.65 8.60 v4.60 M130.65 189.00 v-4.60"/><path d="M137.69 8.60 v4.60 M137.69 189.00 v-4.60"/><path d="M143.79 8.60 v4.60 M143.79 189.00 v-4.60"/><path d="M149.16 8.60 v4.60 M149.16 189.00 v-4.60"/><path d="M153.97 8.60 v9.20 M153.97 189.00 v-9.20"/><path d="M185.62 8.60 v4.60 M185.62 189.00 v-4.60"/><path d="M204.13 8.60 v4.60 M204.13 189.00 v-4.60"/><path d="M217.26 8.60 v4.60 M217.26 189.00 v-4.60"/><path d="M227.45 8.60 v4.60 M227.45 189.00 v-4.60"/><path d="M235.77 8.60 v4.60 M235.77 189.00 v-4.60"/><path d="M242.81 8.60 v4.60 M242.81 189.00 v-4.60"/><path d="M248.91 8.60 v4.60 M248.91 189.00 v-4.60"/><path d="M254.28 8.60 v4.60 M254.28 189.00 v-4.60"/><path d="M259.09 8.60 v9.20 M259.09 189.00 v-9.20"/><path d="M290.74 8.60 v4.60 M290.74 189.00 v-4.60"/><path d="M309.25 8.60 v4.60 M309.25 189.00 v-4.60"/><path d="M322.38 8.60 v4.60 M322.38 189.00 v-4.60"/><path d="M332.57 8.60 v4.60 M332.57 189.00 v-4.60"/><path d="M340.89 8.60 v4.60 M340.89 189.00 v-4.60"/><path d="M347.93 8.60 v4.60 M347.93 189.00 v-4.60"/><path d="M354.03 8.60 v4.60 M354.03 189.00 v-4.60"/><path d="M359.40 8.60 v4.60 M359.40 189.00 v-4.60"/><path d="M364.21 8.60 v9.20 M364.21 189.00 v-9.20"/><path d="M395.86 8.60 v4.60 M395.86 189.00 v-4.60"/><path d="M414.37 8.60 v4.60 M414.37 189.00 v-4.60"/><path d="M427.50 8.60 v4.60 M427.50 189.00 v-4.60"/><path d="M80.50 195.90 v4.60 M80.50 376.40 v-4.60"/><path d="M99.01 195.90 v4.60 M99.01 376.40 v-4.60"/><path d="M112.14 195.90 v4.60 M112.14 376.40 v-4.60"/><path d="M122.33 195.90 v4.60 M122.33 376.40 v-4.60"/><path d="M130.65 195.90 v4.60 M130.65 376.40 v-4.60"/><path d="M137.69 195.90 v4.60 M137.69 376.40 v-4.60"/><path d="M143.79 195.90 v4.60 M143.79 376.40 v-4.60"/><path d="M149.16 195.90 v4.60 M149.16 376.40 v-4.60"/><path d="M153.97 195.90 v9.20 M153.97 376.40 v-9.20"/><path d="M185.62 195.90 v4.60 M185.62 376.40 v-4.60"/><path d="M204.13 195.90 v4.60 M204.13 376.40 v-4.60"/><path d="M217.26 195.90 v4.60 M217.26 376.40 v-4.60"/><path d="M227.45 195.90 v4.60 M227.45 376.40 v-4.60"/><path d="M235.77 195.90 v4.60 M235.77 376.40 v-4.60"/><path d="M242.81 195.90 v4.60 M242.81 376.40 v-4.60"/><path d="M248.91 195.90 v4.60 M248.91 376.40 v-4.60"/><path d="M254.28 195.90 v4.60 M254.28 376.40 v-4.60"/><path d="M259.09 195.90 v9.20 M259.09 376.40 v-9.20"/><path d="M290.74 195.90 v4.60 M290.74 376.40 v-4.60"/><path d="M309.25 195.90 v4.60 M309.25 376.40 v-4.60"/><path d="M322.38 195.90 v4.60 M322.38 376.40 v-4.60"/><path d="M332.57 195.90 v4.60 M332.57 376.40 v-4.60"/><path d="M340.89 195.90 v4.60 M340.89 376.40 v-4.60"/><path d="M347.93 195.90 v4.60 M347.93 376.40 v-4.60"/><path d="M354.03 195.90 v4.60 M354.03 376.40 v-4.60"/><path d="M359.40 195.90 v4.60 M359.40 376.40 v-4.60"/><path d="M364.21 195.90 v9.20 M364.21 376.40 v-9.20"/><path d="M395.86 195.90 v4.60 M395.86 376.40 v-4.60"/><path d="M414.37 195.90 v4.60 M414.37 376.40 v-4.60"/><path d="M427.50 195.90 v4.60 M427.50 376.40 v-4.60"/><path d="M80.50 184.15 h4.80 M427.50 184.15 h-4.80"/><path d="M80.50 171.60 h9.60 M427.50 171.60 h-9.60"/><path d="M80.50 159.05 h4.80 M427.50 159.05 h-4.80"/><path d="M80.50 146.50 h4.80 M427.50 146.50 h-4.80"/><path d="M80.50 133.95 h4.80 M427.50 133.95 h-4.80"/><path d="M80.50 121.40 h9.60 M427.50 121.40 h-9.60"/><path d="M80.50 108.85 h4.80 M427.50 108.85 h-4.80"/><path d="M80.50 96.30 h4.80 M427.50 96.30 h-4.80"/><path d="M80.50 83.75 h4.80 M427.50 83.75 h-4.80"/><path d="M80.50 71.20 h9.60 M427.50 71.20 h-9.60"/><path d="M80.50 58.65 h4.80 M427.50 58.65 h-4.80"/><path d="M80.50 46.10 h4.80 M427.50 46.10 h-4.80"/><path d="M80.50 33.55 h4.80 M427.50 33.55 h-4.80"/><path d="M80.50 21.00 h9.60 M427.50 21.00 h-9.60"/><path d="M80.50 367.23 h4.80 M427.50 367.23 h-4.80"/><path d="M80.50 355.65 h4.80 M427.50 355.65 h-4.80"/><path d="M80.50 344.07 h4.80 M427.50 344.07 h-4.80"/><path d="M80.50 332.50 h9.60 M427.50 332.50 h-9.60"/><path d="M80.50 320.93 h4.80 M427.50 320.93 h-4.80"/><path d="M80.50 309.35 h4.80 M427.50 309.35 h-4.80"/><path d="M80.50 297.77 h4.80 M427.50 297.77 h-4.80"/><path d="M80.50 286.20 h9.60 M427.50 286.20 h-9.60"/><path d="M80.50 274.62 h4.80 M427.50 274.62 h-4.80"/><path d="M80.50 263.05 h4.80 M427.50 263.05 h-4.80"/><path d="M80.50 251.47 h4.80 M427.50 251.47 h-4.80"/><path d="M80.50 239.90 h9.60 M427.50 239.90 h-9.60"/><path d="M80.50 228.32 h4.80 M427.50 228.32 h-4.80"/><path d="M80.50 216.75 h4.80 M427.50 216.75 h-4.80"/><path d="M80.50 205.17 h4.80 M427.50 205.17 h-4.80"/></g>
<rect x="80.5" y="8.6" width="347" height="180.4" fill="none" stroke="#000" stroke-width="1.05"/>
<rect x="80.5" y="195.9" width="347" height="180.5" fill="none" stroke="#000" stroke-width="1.05"/>
</svg>
<svg width="436" height="425" viewBox="0 0 436 425" style="position:absolute;left:0;top:0;will-change:transform;opacity:0.999" font-family="Liberation Serif, serif" text-rendering="geometricPrecision">
<text transform="translate(49.60,26.00) scale(1.200,1)" font-size="15" fill="#000" textLength="19.00" lengthAdjust="spacing" >0.4</text>
<text transform="translate(49.60,76.20) scale(1.200,1)" font-size="15" fill="#000" textLength="19.00" lengthAdjust="spacing" >0.2</text>
<text transform="translate(63.60,126.40) scale(1.200,1)" font-size="15" fill="#000" >0</text>
<text transform="translate(49.60,176.60) scale(1.200,1)" font-size="15" fill="#000" textLength="19.00" lengthAdjust="spacing" >0.2</text>
<path d="M38.9 172.00 H47.9" stroke="#000" stroke-width="0.9" fill="none"/>
<text transform="translate(49.60,244.90) scale(1.200,1)" font-size="15" fill="#000" textLength="19.00" lengthAdjust="spacing" >0.2</text>
<text transform="translate(63.60,291.20) scale(1.200,1)" font-size="15" fill="#000" >0</text>
<text transform="translate(49.60,337.50) scale(1.200,1)" font-size="15" fill="#000" textLength="19.00" lengthAdjust="spacing" >0.2</text>
<path d="M38.9 332.90 H47.9" stroke="#000" stroke-width="0.9" fill="none"/>
<text transform="translate(146.60,394.80) scale(1.150,1)" font-size="15.3" fill="#000" textLength="14.09" lengthAdjust="spacing" >10</text>
<text transform="translate(246.60,394.80) scale(1.150,1)" font-size="15.3" fill="#000" textLength="22.52" lengthAdjust="spacing" >100</text>
<text transform="translate(347.50,394.80) scale(1.150,1)" font-size="15.3" fill="#000" textLength="30.52" lengthAdjust="spacing" >1000</text>
<text transform="translate(251.60,417.00) scale(1.100,1)" font-size="15.3" fill="#000" >l</text>
<text transform="translate(101.30,31.40) scale(1.100,1)" font-size="14.5" fill="#707070" textLength="23.64" lengthAdjust="spacing" stroke="#707070" stroke-width="0.2">Viel</text>
<text transform="translate(134.50,31.40) scale(1.300,1)" font-size="14.5" fill="#707070" textLength="10.85" lengthAdjust="spacing" stroke="#707070" stroke-width="0.2">et</text>
<text transform="translate(155.90,31.40) scale(1.100,1)" font-size="14.5" fill="#707070" textLength="14.91" lengthAdjust="spacing" stroke="#707070" stroke-width="0.2">al.</text>
<text transform="translate(180.30,31.40) scale(1.100,1)" font-size="14.5" fill="#707070" textLength="45.09" lengthAdjust="spacing" stroke="#707070" stroke-width="0.2">(2011),</text>
<text transform="translate(237.50,31.40) scale(1.100,1)" font-size="14.5" fill="#707070" stroke="#707070" stroke-width="0.2">m</text>
<text transform="translate(251.40,35.50) scale(1.000,1)" font-size="7.5" fill="#666" textLength="18.40" lengthAdjust="spacing" font-family="Liberation Sans, sans-serif" font-weight="bold" stroke="#666" stroke-width="0.35">WDM</text>
<text transform="translate(270.70,31.40) scale(1.100,1)" font-size="14.5" fill="#707070" textLength="28.36" lengthAdjust="spacing" stroke="#707070" stroke-width="0.2">=0.5</text>
<text transform="translate(309.50,31.40) scale(1.100,1)" font-size="14.5" fill="#707070" textLength="22.36" lengthAdjust="spacing" stroke="#707070" stroke-width="0.2">keV</text>
<text transform="translate(102.00,46.40) scale(1.150,1)" font-size="14" fill="#ff0000" stroke="#ff0000" stroke-width="0.4">c</text>
<text transform="translate(109.90,50.70) scale(0.900,1)" font-size="10.5" fill="#ff0000" font-weight="bold">n</text>
<path d="M123.5 42.50 H132.3 M129.8 40.70 L132.5 42.50 L129.8 44.30" stroke="#ff0000" stroke-width="1.1" fill="none"/>
<text transform="translate(134.40,46.40) scale(1.150,1)" font-size="14" fill="#ff0000" textLength="25.39" lengthAdjust="spacing" stroke="#ff0000" stroke-width="0.4">1.01</text>
<text transform="translate(164.00,46.40) scale(1.150,1)" font-size="14" fill="#ff0000" stroke="#ff0000" stroke-width="0.4">c</text>
<text transform="translate(171.90,50.70) scale(0.900,1)" font-size="10.5" fill="#ff0000" font-weight="bold">n</text>
<text transform="translate(101.90,345.30) scale(1.100,1)" font-size="14.5" fill="#707070" textLength="22.64" lengthAdjust="spacing" stroke="#707070" stroke-width="0.2">van</text>
<text transform="translate(134.60,345.30) scale(1.100,1)" font-size="14.5" fill="#707070" textLength="43.09" lengthAdjust="spacing" stroke="#707070" stroke-width="0.2">Daalen</text>
<text transform="translate(189.50,345.30) scale(1.300,1)" font-size="14.5" fill="#707070" textLength="10.77" lengthAdjust="spacing" stroke="#707070" stroke-width="0.2">et</text>
<text transform="translate(211.20,345.30) scale(1.100,1)" font-size="14.5" fill="#707070" textLength="15.09" lengthAdjust="spacing" stroke="#707070" stroke-width="0.2">al.</text>
<text transform="translate(235.60,345.30) scale(1.100,1)" font-size="14.5" fill="#707070" textLength="41.36" lengthAdjust="spacing" stroke="#707070" stroke-width="0.2">(2011)</text>
<text transform="translate(102.00,360.40) scale(1.150,1)" font-size="14" fill="#ff0000" stroke="#ff0000" stroke-width="0.4">c</text>
<text transform="translate(109.90,364.70) scale(0.900,1)" font-size="10.5" fill="#ff0000" font-weight="bold">n</text>
<path d="M123.5 356.50 H132.3 M129.8 354.70 L132.5 356.50 L129.8 358.30" stroke="#ff0000" stroke-width="1.1" fill="none"/>
<text transform="translate(134.40,360.40) scale(1.150,1)" font-size="14" fill="#ff0000" textLength="25.39" lengthAdjust="spacing" stroke="#ff0000" stroke-width="0.4">1.15</text>
<text transform="translate(164.00,360.40) scale(1.150,1)" font-size="14" fill="#ff0000" stroke="#ff0000" stroke-width="0.4">c</text>
<text transform="translate(171.90,364.70) scale(0.900,1)" font-size="10.5" fill="#ff0000" font-weight="bold">n</text>
</svg>
<svg width="40" height="425" viewBox="0 0 40 425" style="position:absolute;left:0;top:0;overflow:visible">
<g transform="translate(18.4,220.7) rotate(-90)" font-family="Liberation Serif, serif" font-size="16" fill="#000">
<text x="-0.2" y="0" font-size="15">&#916;</text><text x="8.6" y="0">P</text>
<text x="17.8" y="4.4" font-size="10" font-style="italic">&#954;</text>
<path d="M23.6 2.8 L34.0 -12.0" stroke="#000" stroke-width="1" fill="none"/>
<text x="33.6" y="0">P</text>
<text x="42.6" y="4.8" font-size="12" font-style="italic">&#954;</text>
</g></svg>
</body></html>
